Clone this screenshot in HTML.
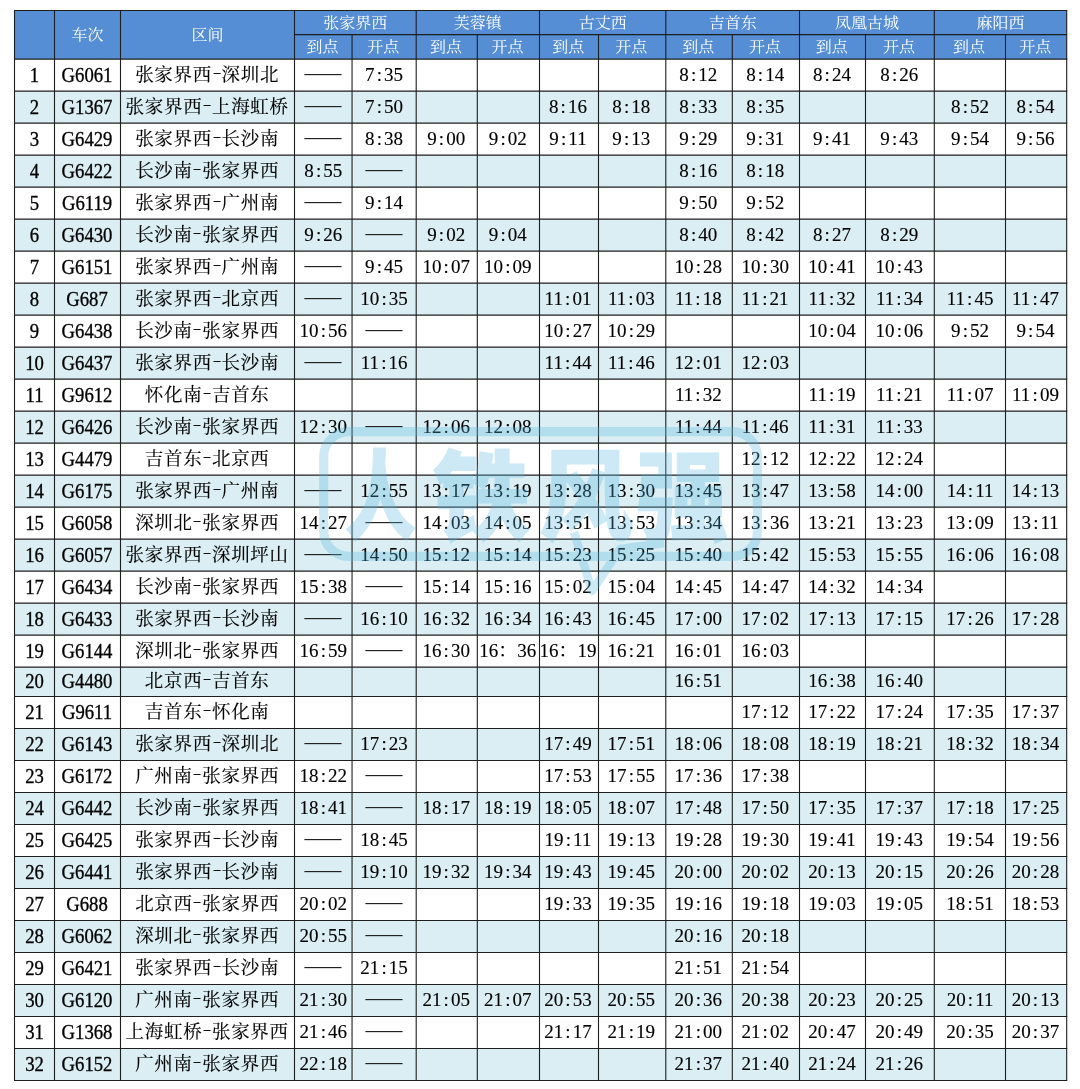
<!DOCTYPE html>
<html lang="zh-CN"><head><meta charset="utf-8"><title>张家界西站列车时刻表</title>
<style>
html,body{margin:0;padding:0;background:#fff;}
body{width:1080px;height:1089px;position:relative;overflow:hidden;font-family:"Liberation Serif","Noto Serif CJK SC",serif;color:#000;}
svg{position:absolute;left:0;top:0;}
.c{position:absolute;display:flex;align-items:center;justify-content:center;white-space:nowrap;text-align:center;}
.c>span{display:inline-block;}
.c i{font-style:normal;display:inline-block;text-align:center;}
.h{color:#fff;font-size:16.0px;}
.n{font-size:18.7px;}
.z{font-size:18.5px;letter-spacing:0.7px;}
.z i{width:9.6px;letter-spacing:0;}
.z i b{font-weight:normal;display:inline-block;transform:translateY(-3.8px) scale(1.4,0.7);}
.t{font-size:19.0px;letter-spacing:0.0px;}
.t i{width:9.5px;letter-spacing:0;}
.t i.f{width:19.0px;line-height:0;text-align:left;}
.d{font-size:19.0px;font-weight:400;color:#222;}
.h>span{transform:translateY(-0.65px) scale(1.0,0.92);}
.n>span{transform:translateY(0.35px) scale(1.0,1.1);-webkit-text-stroke:0.3px currentColor;}
.z>span{transform:translateY(-1.8px) scale(1.0,1.0);-webkit-text-stroke:0.15px currentColor;}
.t>span{transform:translateY(0.0px) scale(1.0,1.0);-webkit-text-stroke:0.12px currentColor;}
.d>span{transform:translateY(-2.6px) scale(0.97,1.25);}
</style></head><body>
<svg width="1080" height="1089" viewBox="0 0 1080 1089">
<rect x="14.5" y="10.5" width="1052.2" height="48.6" fill="#558ed5"/>
<rect x="14.5" y="91.100" width="1052.2" height="32.000" fill="#daeef3"/>
<rect x="14.5" y="155.100" width="1052.2" height="32.000" fill="#daeef3"/>
<rect x="14.5" y="219.100" width="1052.2" height="32.000" fill="#daeef3"/>
<rect x="14.5" y="283.100" width="1052.2" height="32.000" fill="#daeef3"/>
<rect x="14.5" y="347.100" width="1052.2" height="32.000" fill="#daeef3"/>
<rect x="14.5" y="411.100" width="1052.2" height="32.000" fill="#daeef3"/>
<rect x="14.5" y="475.100" width="1052.2" height="32.000" fill="#daeef3"/>
<rect x="14.5" y="539.100" width="1052.2" height="32.000" fill="#daeef3"/>
<rect x="14.5" y="603.100" width="1052.2" height="32.000" fill="#daeef3"/>
<rect x="14.5" y="667.100" width="1052.2" height="29.400" fill="#daeef3"/>
<rect x="14.5" y="728.500" width="1052.2" height="32.000" fill="#daeef3"/>
<rect x="14.5" y="792.500" width="1052.2" height="32.000" fill="#daeef3"/>
<rect x="14.5" y="856.500" width="1052.2" height="32.000" fill="#daeef3"/>
<rect x="14.5" y="920.500" width="1052.2" height="32.000" fill="#daeef3"/>
<rect x="14.5" y="984.500" width="1052.2" height="32.000" fill="#daeef3"/>
<rect x="14.5" y="1048.500" width="1052.2" height="32.000" fill="#daeef3"/>
</svg>
<svg width="1080" height="1089" viewBox="0 0 1080 1089">
<g stroke="#1e1e1e" fill="none">
<g stroke-width="1.15">
<line x1="14.0" y1="10.5" x2="1067.2" y2="10.5" stroke-width="1.1"/>
<line x1="294.5" y1="34.6" x2="1066.7" y2="34.6" stroke-width="1.1"/>
<line x1="14.0" y1="59.100" x2="1067.2" y2="59.100"/>
<line x1="14.0" y1="91.100" x2="1067.2" y2="91.100"/>
<line x1="14.0" y1="123.100" x2="1067.2" y2="123.100"/>
<line x1="14.0" y1="155.100" x2="1067.2" y2="155.100"/>
<line x1="14.0" y1="187.100" x2="1067.2" y2="187.100"/>
<line x1="14.0" y1="219.100" x2="1067.2" y2="219.100"/>
<line x1="14.0" y1="251.100" x2="1067.2" y2="251.100"/>
<line x1="14.0" y1="283.100" x2="1067.2" y2="283.100"/>
<line x1="14.0" y1="315.100" x2="1067.2" y2="315.100"/>
<line x1="14.0" y1="347.100" x2="1067.2" y2="347.100"/>
<line x1="14.0" y1="379.100" x2="1067.2" y2="379.100"/>
<line x1="14.0" y1="411.100" x2="1067.2" y2="411.100"/>
<line x1="14.0" y1="443.100" x2="1067.2" y2="443.100"/>
<line x1="14.0" y1="475.100" x2="1067.2" y2="475.100"/>
<line x1="14.0" y1="507.100" x2="1067.2" y2="507.100"/>
<line x1="14.0" y1="539.100" x2="1067.2" y2="539.100"/>
<line x1="14.0" y1="571.100" x2="1067.2" y2="571.100"/>
<line x1="14.0" y1="603.100" x2="1067.2" y2="603.100"/>
<line x1="14.0" y1="635.100" x2="1067.2" y2="635.100"/>
<line x1="14.0" y1="667.100" x2="1067.2" y2="667.100"/>
</g>
<g stroke-width="1.05">
<line x1="14.0" y1="696.500" x2="1067.2" y2="696.500"/>
<line x1="14.0" y1="728.500" x2="1067.2" y2="728.500"/>
<line x1="14.0" y1="760.500" x2="1067.2" y2="760.500"/>
<line x1="14.0" y1="792.500" x2="1067.2" y2="792.500"/>
<line x1="14.0" y1="824.500" x2="1067.2" y2="824.500"/>
<line x1="14.0" y1="856.500" x2="1067.2" y2="856.500"/>
<line x1="14.0" y1="888.500" x2="1067.2" y2="888.500"/>
<line x1="14.0" y1="920.500" x2="1067.2" y2="920.500"/>
<line x1="14.0" y1="952.500" x2="1067.2" y2="952.500"/>
<line x1="14.0" y1="984.500" x2="1067.2" y2="984.500"/>
<line x1="14.0" y1="1016.500" x2="1067.2" y2="1016.500"/>
<line x1="14.0" y1="1048.500" x2="1067.2" y2="1048.500"/>
<line x1="14.0" y1="1080.500" x2="1067.2" y2="1080.500"/>
</g>
<g stroke-width="1.1">
<line x1="14.5" y1="10.5" x2="14.5" y2="1080.500"/>
<line x1="54.5" y1="10.5" x2="54.5" y2="1080.500"/>
<line x1="120.5" y1="10.5" x2="120.5" y2="1080.500"/>
<line x1="294.5" y1="10.5" x2="294.5" y2="1080.500"/>
<line x1="352.05" y1="34.6" x2="352.05" y2="1080.500"/>
<line x1="416.2" y1="10.5" x2="416.2" y2="1080.500"/>
<line x1="477.3" y1="34.6" x2="477.3" y2="1080.500"/>
<line x1="539.5" y1="10.5" x2="539.5" y2="1080.500"/>
<line x1="598.5" y1="34.6" x2="598.5" y2="1080.500"/>
<line x1="665.8" y1="10.5" x2="665.8" y2="1080.500"/>
<line x1="732.3" y1="34.6" x2="732.3" y2="1080.500"/>
<line x1="799.5" y1="10.5" x2="799.5" y2="1080.500"/>
<line x1="865.5" y1="34.6" x2="865.5" y2="1080.500"/>
<line x1="934.3" y1="10.5" x2="934.3" y2="1080.500"/>
<line x1="1005.5" y1="34.6" x2="1005.5" y2="1080.500"/>
<line x1="1066.7" y1="10.5" x2="1066.7" y2="1080.500"/>
</g>
</g></svg>
<div class="c h" style="left:54.50px;top:10.50px;width:66.00px;height:48.60px"><span>车次</span></div>
<div class="c h" style="left:120.50px;top:10.50px;width:174.00px;height:48.60px"><span>区间</span></div>
<div class="c h" style="left:294.50px;top:10.50px;width:121.70px;height:24.10px"><span>张家界西</span></div>
<div class="c h" style="left:293.70px;top:34.10px;width:57.55px;height:24.50px"><span>到点</span></div>
<div class="c h" style="left:351.25px;top:34.10px;width:64.15px;height:24.50px"><span>开点</span></div>
<div class="c h" style="left:416.20px;top:10.50px;width:123.30px;height:24.10px"><span>芙蓉镇</span></div>
<div class="c h" style="left:415.40px;top:34.10px;width:61.10px;height:24.50px"><span>到点</span></div>
<div class="c h" style="left:476.50px;top:34.10px;width:62.20px;height:24.50px"><span>开点</span></div>
<div class="c h" style="left:539.50px;top:10.50px;width:126.30px;height:24.10px"><span>古丈西</span></div>
<div class="c h" style="left:538.70px;top:34.10px;width:59.00px;height:24.50px"><span>到点</span></div>
<div class="c h" style="left:597.70px;top:34.10px;width:67.30px;height:24.50px"><span>开点</span></div>
<div class="c h" style="left:665.80px;top:10.50px;width:133.70px;height:24.10px"><span>吉首东</span></div>
<div class="c h" style="left:665.00px;top:34.10px;width:66.50px;height:24.50px"><span>到点</span></div>
<div class="c h" style="left:731.50px;top:34.10px;width:67.20px;height:24.50px"><span>开点</span></div>
<div class="c h" style="left:799.50px;top:10.50px;width:134.80px;height:24.10px"><span>凤凰古城</span></div>
<div class="c h" style="left:798.70px;top:34.10px;width:66.00px;height:24.50px"><span>到点</span></div>
<div class="c h" style="left:864.70px;top:34.10px;width:68.80px;height:24.50px"><span>开点</span></div>
<div class="c h" style="left:934.30px;top:10.50px;width:132.40px;height:24.10px"><span>麻阳西</span></div>
<div class="c h" style="left:933.50px;top:34.10px;width:71.20px;height:24.50px"><span>到点</span></div>
<div class="c h" style="left:1004.70px;top:34.10px;width:61.20px;height:24.50px"><span>开点</span></div>
<div class="c n" style="left:14.50px;top:59.00px;width:40.00px;height:32.00px"><span>1</span></div>
<div class="c n" style="left:54.00px;top:59.00px;width:66.00px;height:32.00px"><span>G6061</span></div>
<div class="c z" style="left:120.15px;top:59.00px;width:174.00px;height:32.00px"><span>张家界西<i><b>-</b></i>深圳北</span></div>
<div class="c d" style="left:294.50px;top:59.00px;width:57.55px;height:32.00px"><span>——</span></div>
<div class="c t" style="left:352.05px;top:59.00px;width:64.15px;height:32.00px"><span>7<i>:</i>35</span></div>
<div class="c t" style="left:665.10px;top:59.00px;width:66.50px;height:32.00px"><span>8<i>:</i>12</span></div>
<div class="c t" style="left:731.60px;top:59.00px;width:67.20px;height:32.00px"><span>8<i>:</i>14</span></div>
<div class="c t" style="left:799.00px;top:59.00px;width:66.00px;height:32.00px"><span>8<i>:</i>24</span></div>
<div class="c t" style="left:864.90px;top:59.00px;width:68.80px;height:32.00px"><span>8<i>:</i>26</span></div>
<div class="c n" style="left:14.50px;top:91.00px;width:40.00px;height:32.00px"><span>2</span></div>
<div class="c n" style="left:54.00px;top:91.00px;width:66.00px;height:32.00px"><span>G1367</span></div>
<div class="c z" style="left:120.15px;top:91.00px;width:174.00px;height:32.00px"><span>张家界西<i><b>-</b></i>上海虹桥</span></div>
<div class="c d" style="left:294.50px;top:91.00px;width:57.55px;height:32.00px"><span>——</span></div>
<div class="c t" style="left:352.05px;top:91.00px;width:64.15px;height:32.00px"><span>7<i>:</i>50</span></div>
<div class="c t" style="left:538.50px;top:91.00px;width:59.00px;height:32.00px"><span>8<i>:</i>16</span></div>
<div class="c t" style="left:597.70px;top:91.00px;width:67.30px;height:32.00px"><span>8<i>:</i>18</span></div>
<div class="c t" style="left:665.10px;top:91.00px;width:66.50px;height:32.00px"><span>8<i>:</i>33</span></div>
<div class="c t" style="left:731.60px;top:91.00px;width:67.20px;height:32.00px"><span>8<i>:</i>35</span></div>
<div class="c t" style="left:934.50px;top:91.00px;width:71.20px;height:32.00px"><span>8<i>:</i>52</span></div>
<div class="c t" style="left:1004.90px;top:91.00px;width:61.20px;height:32.00px"><span>8<i>:</i>54</span></div>
<div class="c n" style="left:14.50px;top:123.00px;width:40.00px;height:32.00px"><span>3</span></div>
<div class="c n" style="left:54.00px;top:123.00px;width:66.00px;height:32.00px"><span>G6429</span></div>
<div class="c z" style="left:120.15px;top:123.00px;width:174.00px;height:32.00px"><span>张家界西<i><b>-</b></i>长沙南</span></div>
<div class="c d" style="left:294.50px;top:123.00px;width:57.55px;height:32.00px"><span>——</span></div>
<div class="c t" style="left:352.05px;top:123.00px;width:64.15px;height:32.00px"><span>8<i>:</i>38</span></div>
<div class="c t" style="left:415.70px;top:123.00px;width:61.10px;height:32.00px"><span>9<i>:</i>00</span></div>
<div class="c t" style="left:476.70px;top:123.00px;width:62.20px;height:32.00px"><span>9<i>:</i>02</span></div>
<div class="c t" style="left:538.50px;top:123.00px;width:59.00px;height:32.00px"><span>9<i>:</i>11</span></div>
<div class="c t" style="left:597.70px;top:123.00px;width:67.30px;height:32.00px"><span>9<i>:</i>13</span></div>
<div class="c t" style="left:665.10px;top:123.00px;width:66.50px;height:32.00px"><span>9<i>:</i>29</span></div>
<div class="c t" style="left:731.60px;top:123.00px;width:67.20px;height:32.00px"><span>9<i>:</i>31</span></div>
<div class="c t" style="left:799.00px;top:123.00px;width:66.00px;height:32.00px"><span>9<i>:</i>41</span></div>
<div class="c t" style="left:864.90px;top:123.00px;width:68.80px;height:32.00px"><span>9<i>:</i>43</span></div>
<div class="c t" style="left:934.50px;top:123.00px;width:71.20px;height:32.00px"><span>9<i>:</i>54</span></div>
<div class="c t" style="left:1004.90px;top:123.00px;width:61.20px;height:32.00px"><span>9<i>:</i>56</span></div>
<div class="c n" style="left:14.50px;top:155.00px;width:40.00px;height:32.00px"><span>4</span></div>
<div class="c n" style="left:54.00px;top:155.00px;width:66.00px;height:32.00px"><span>G6422</span></div>
<div class="c z" style="left:120.15px;top:155.00px;width:174.00px;height:32.00px"><span>长沙南<i><b>-</b></i>张家界西</span></div>
<div class="c t" style="left:294.50px;top:155.00px;width:57.55px;height:32.00px"><span>8<i>:</i>55</span></div>
<div class="c d" style="left:352.05px;top:155.00px;width:64.15px;height:32.00px"><span>——</span></div>
<div class="c t" style="left:665.10px;top:155.00px;width:66.50px;height:32.00px"><span>8<i>:</i>16</span></div>
<div class="c t" style="left:731.60px;top:155.00px;width:67.20px;height:32.00px"><span>8<i>:</i>18</span></div>
<div class="c n" style="left:14.50px;top:187.00px;width:40.00px;height:32.00px"><span>5</span></div>
<div class="c n" style="left:54.00px;top:187.00px;width:66.00px;height:32.00px"><span>G6119</span></div>
<div class="c z" style="left:120.15px;top:187.00px;width:174.00px;height:32.00px"><span>张家界西<i><b>-</b></i>广州南</span></div>
<div class="c d" style="left:294.50px;top:187.00px;width:57.55px;height:32.00px"><span>——</span></div>
<div class="c t" style="left:352.05px;top:187.00px;width:64.15px;height:32.00px"><span>9<i>:</i>14</span></div>
<div class="c t" style="left:665.10px;top:187.00px;width:66.50px;height:32.00px"><span>9<i>:</i>50</span></div>
<div class="c t" style="left:731.60px;top:187.00px;width:67.20px;height:32.00px"><span>9<i>:</i>52</span></div>
<div class="c n" style="left:14.50px;top:219.00px;width:40.00px;height:32.00px"><span>6</span></div>
<div class="c n" style="left:54.00px;top:219.00px;width:66.00px;height:32.00px"><span>G6430</span></div>
<div class="c z" style="left:120.15px;top:219.00px;width:174.00px;height:32.00px"><span>长沙南<i><b>-</b></i>张家界西</span></div>
<div class="c t" style="left:294.50px;top:219.00px;width:57.55px;height:32.00px"><span>9<i>:</i>26</span></div>
<div class="c d" style="left:352.05px;top:219.00px;width:64.15px;height:32.00px"><span>——</span></div>
<div class="c t" style="left:415.70px;top:219.00px;width:61.10px;height:32.00px"><span>9<i>:</i>02</span></div>
<div class="c t" style="left:476.70px;top:219.00px;width:62.20px;height:32.00px"><span>9<i>:</i>04</span></div>
<div class="c t" style="left:665.10px;top:219.00px;width:66.50px;height:32.00px"><span>8<i>:</i>40</span></div>
<div class="c t" style="left:731.60px;top:219.00px;width:67.20px;height:32.00px"><span>8<i>:</i>42</span></div>
<div class="c t" style="left:799.00px;top:219.00px;width:66.00px;height:32.00px"><span>8<i>:</i>27</span></div>
<div class="c t" style="left:864.90px;top:219.00px;width:68.80px;height:32.00px"><span>8<i>:</i>29</span></div>
<div class="c n" style="left:14.50px;top:251.00px;width:40.00px;height:32.00px"><span>7</span></div>
<div class="c n" style="left:54.00px;top:251.00px;width:66.00px;height:32.00px"><span>G6151</span></div>
<div class="c z" style="left:120.15px;top:251.00px;width:174.00px;height:32.00px"><span>张家界西<i><b>-</b></i>广州南</span></div>
<div class="c d" style="left:294.50px;top:251.00px;width:57.55px;height:32.00px"><span>——</span></div>
<div class="c t" style="left:352.05px;top:251.00px;width:64.15px;height:32.00px"><span>9<i>:</i>45</span></div>
<div class="c t" style="left:415.70px;top:251.00px;width:61.10px;height:32.00px"><span>10<i>:</i>07</span></div>
<div class="c t" style="left:476.70px;top:251.00px;width:62.20px;height:32.00px"><span>10<i>:</i>09</span></div>
<div class="c t" style="left:665.10px;top:251.00px;width:66.50px;height:32.00px"><span>10<i>:</i>28</span></div>
<div class="c t" style="left:731.60px;top:251.00px;width:67.20px;height:32.00px"><span>10<i>:</i>30</span></div>
<div class="c t" style="left:799.00px;top:251.00px;width:66.00px;height:32.00px"><span>10<i>:</i>41</span></div>
<div class="c t" style="left:864.90px;top:251.00px;width:68.80px;height:32.00px"><span>10<i>:</i>43</span></div>
<div class="c n" style="left:14.50px;top:283.00px;width:40.00px;height:32.00px"><span>8</span></div>
<div class="c n" style="left:54.00px;top:283.00px;width:66.00px;height:32.00px"><span>G687</span></div>
<div class="c z" style="left:120.15px;top:283.00px;width:174.00px;height:32.00px"><span>张家界西<i><b>-</b></i>北京西</span></div>
<div class="c d" style="left:294.50px;top:283.00px;width:57.55px;height:32.00px"><span>——</span></div>
<div class="c t" style="left:352.05px;top:283.00px;width:64.15px;height:32.00px"><span>10<i>:</i>35</span></div>
<div class="c t" style="left:538.50px;top:283.00px;width:59.00px;height:32.00px"><span>11<i>:</i>01</span></div>
<div class="c t" style="left:597.70px;top:283.00px;width:67.30px;height:32.00px"><span>11<i>:</i>03</span></div>
<div class="c t" style="left:665.10px;top:283.00px;width:66.50px;height:32.00px"><span>11<i>:</i>18</span></div>
<div class="c t" style="left:731.60px;top:283.00px;width:67.20px;height:32.00px"><span>11<i>:</i>21</span></div>
<div class="c t" style="left:799.00px;top:283.00px;width:66.00px;height:32.00px"><span>11<i>:</i>32</span></div>
<div class="c t" style="left:864.90px;top:283.00px;width:68.80px;height:32.00px"><span>11<i>:</i>34</span></div>
<div class="c t" style="left:934.50px;top:283.00px;width:71.20px;height:32.00px"><span>11<i>:</i>45</span></div>
<div class="c t" style="left:1004.90px;top:283.00px;width:61.20px;height:32.00px"><span>11<i>:</i>47</span></div>
<div class="c n" style="left:14.50px;top:315.00px;width:40.00px;height:32.00px"><span>9</span></div>
<div class="c n" style="left:54.00px;top:315.00px;width:66.00px;height:32.00px"><span>G6438</span></div>
<div class="c z" style="left:120.15px;top:315.00px;width:174.00px;height:32.00px"><span>长沙南<i><b>-</b></i>张家界西</span></div>
<div class="c t" style="left:294.50px;top:315.00px;width:57.55px;height:32.00px"><span>10<i>:</i>56</span></div>
<div class="c d" style="left:352.05px;top:315.00px;width:64.15px;height:32.00px"><span>——</span></div>
<div class="c t" style="left:538.50px;top:315.00px;width:59.00px;height:32.00px"><span>10<i>:</i>27</span></div>
<div class="c t" style="left:597.70px;top:315.00px;width:67.30px;height:32.00px"><span>10<i>:</i>29</span></div>
<div class="c t" style="left:799.00px;top:315.00px;width:66.00px;height:32.00px"><span>10<i>:</i>04</span></div>
<div class="c t" style="left:864.90px;top:315.00px;width:68.80px;height:32.00px"><span>10<i>:</i>06</span></div>
<div class="c t" style="left:934.50px;top:315.00px;width:71.20px;height:32.00px"><span>9<i>:</i>52</span></div>
<div class="c t" style="left:1004.90px;top:315.00px;width:61.20px;height:32.00px"><span>9<i>:</i>54</span></div>
<div class="c n" style="left:14.50px;top:347.00px;width:40.00px;height:32.00px"><span>10</span></div>
<div class="c n" style="left:54.00px;top:347.00px;width:66.00px;height:32.00px"><span>G6437</span></div>
<div class="c z" style="left:120.15px;top:347.00px;width:174.00px;height:32.00px"><span>张家界西<i><b>-</b></i>长沙南</span></div>
<div class="c d" style="left:294.50px;top:347.00px;width:57.55px;height:32.00px"><span>——</span></div>
<div class="c t" style="left:352.05px;top:347.00px;width:64.15px;height:32.00px"><span>11<i>:</i>16</span></div>
<div class="c t" style="left:538.50px;top:347.00px;width:59.00px;height:32.00px"><span>11<i>:</i>44</span></div>
<div class="c t" style="left:597.70px;top:347.00px;width:67.30px;height:32.00px"><span>11<i>:</i>46</span></div>
<div class="c t" style="left:665.10px;top:347.00px;width:66.50px;height:32.00px"><span>12<i>:</i>01</span></div>
<div class="c t" style="left:731.60px;top:347.00px;width:67.20px;height:32.00px"><span>12<i>:</i>03</span></div>
<div class="c n" style="left:14.50px;top:379.00px;width:40.00px;height:32.00px"><span>11</span></div>
<div class="c n" style="left:54.00px;top:379.00px;width:66.00px;height:32.00px"><span>G9612</span></div>
<div class="c z" style="left:120.15px;top:379.00px;width:174.00px;height:32.00px"><span>怀化南<i><b>-</b></i>吉首东</span></div>
<div class="c t" style="left:665.10px;top:379.00px;width:66.50px;height:32.00px"><span>11<i>:</i>32</span></div>
<div class="c t" style="left:799.00px;top:379.00px;width:66.00px;height:32.00px"><span>11<i>:</i>19</span></div>
<div class="c t" style="left:864.90px;top:379.00px;width:68.80px;height:32.00px"><span>11<i>:</i>21</span></div>
<div class="c t" style="left:934.50px;top:379.00px;width:71.20px;height:32.00px"><span>11<i>:</i>07</span></div>
<div class="c t" style="left:1004.90px;top:379.00px;width:61.20px;height:32.00px"><span>11<i>:</i>09</span></div>
<div class="c n" style="left:14.50px;top:411.00px;width:40.00px;height:32.00px"><span>12</span></div>
<div class="c n" style="left:54.00px;top:411.00px;width:66.00px;height:32.00px"><span>G6426</span></div>
<div class="c z" style="left:120.15px;top:411.00px;width:174.00px;height:32.00px"><span>长沙南<i><b>-</b></i>张家界西</span></div>
<div class="c t" style="left:294.50px;top:411.00px;width:57.55px;height:32.00px"><span>12<i>:</i>30</span></div>
<div class="c d" style="left:352.05px;top:411.00px;width:64.15px;height:32.00px"><span>——</span></div>
<div class="c t" style="left:415.70px;top:411.00px;width:61.10px;height:32.00px"><span>12<i>:</i>06</span></div>
<div class="c t" style="left:476.70px;top:411.00px;width:62.20px;height:32.00px"><span>12<i>:</i>08</span></div>
<div class="c t" style="left:665.10px;top:411.00px;width:66.50px;height:32.00px"><span>11<i>:</i>44</span></div>
<div class="c t" style="left:731.60px;top:411.00px;width:67.20px;height:32.00px"><span>11<i>:</i>46</span></div>
<div class="c t" style="left:799.00px;top:411.00px;width:66.00px;height:32.00px"><span>11<i>:</i>31</span></div>
<div class="c t" style="left:864.90px;top:411.00px;width:68.80px;height:32.00px"><span>11<i>:</i>33</span></div>
<div class="c n" style="left:14.50px;top:443.00px;width:40.00px;height:32.00px"><span>13</span></div>
<div class="c n" style="left:54.00px;top:443.00px;width:66.00px;height:32.00px"><span>G4479</span></div>
<div class="c z" style="left:120.15px;top:443.00px;width:174.00px;height:32.00px"><span>吉首东<i><b>-</b></i>北京西</span></div>
<div class="c t" style="left:731.60px;top:443.00px;width:67.20px;height:32.00px"><span>12<i>:</i>12</span></div>
<div class="c t" style="left:799.00px;top:443.00px;width:66.00px;height:32.00px"><span>12<i>:</i>22</span></div>
<div class="c t" style="left:864.90px;top:443.00px;width:68.80px;height:32.00px"><span>12<i>:</i>24</span></div>
<div class="c n" style="left:14.50px;top:475.00px;width:40.00px;height:32.00px"><span>14</span></div>
<div class="c n" style="left:54.00px;top:475.00px;width:66.00px;height:32.00px"><span>G6175</span></div>
<div class="c z" style="left:120.15px;top:475.00px;width:174.00px;height:32.00px"><span>张家界西<i><b>-</b></i>广州南</span></div>
<div class="c d" style="left:294.50px;top:475.00px;width:57.55px;height:32.00px"><span>——</span></div>
<div class="c t" style="left:352.05px;top:475.00px;width:64.15px;height:32.00px"><span>12<i>:</i>55</span></div>
<div class="c t" style="left:415.70px;top:475.00px;width:61.10px;height:32.00px"><span>13<i>:</i>17</span></div>
<div class="c t" style="left:476.70px;top:475.00px;width:62.20px;height:32.00px"><span>13<i>:</i>19</span></div>
<div class="c t" style="left:538.50px;top:475.00px;width:59.00px;height:32.00px"><span>13<i>:</i>28</span></div>
<div class="c t" style="left:597.70px;top:475.00px;width:67.30px;height:32.00px"><span>13<i>:</i>30</span></div>
<div class="c t" style="left:665.10px;top:475.00px;width:66.50px;height:32.00px"><span>13<i>:</i>45</span></div>
<div class="c t" style="left:731.60px;top:475.00px;width:67.20px;height:32.00px"><span>13<i>:</i>47</span></div>
<div class="c t" style="left:799.00px;top:475.00px;width:66.00px;height:32.00px"><span>13<i>:</i>58</span></div>
<div class="c t" style="left:864.90px;top:475.00px;width:68.80px;height:32.00px"><span>14<i>:</i>00</span></div>
<div class="c t" style="left:934.50px;top:475.00px;width:71.20px;height:32.00px"><span>14<i>:</i>11</span></div>
<div class="c t" style="left:1004.90px;top:475.00px;width:61.20px;height:32.00px"><span>14<i>:</i>13</span></div>
<div class="c n" style="left:14.50px;top:507.00px;width:40.00px;height:32.00px"><span>15</span></div>
<div class="c n" style="left:54.00px;top:507.00px;width:66.00px;height:32.00px"><span>G6058</span></div>
<div class="c z" style="left:120.15px;top:507.00px;width:174.00px;height:32.00px"><span>深圳北<i><b>-</b></i>张家界西</span></div>
<div class="c t" style="left:294.50px;top:507.00px;width:57.55px;height:32.00px"><span>14<i>:</i>27</span></div>
<div class="c d" style="left:352.05px;top:507.00px;width:64.15px;height:32.00px"><span>——</span></div>
<div class="c t" style="left:415.70px;top:507.00px;width:61.10px;height:32.00px"><span>14<i>:</i>03</span></div>
<div class="c t" style="left:476.70px;top:507.00px;width:62.20px;height:32.00px"><span>14<i>:</i>05</span></div>
<div class="c t" style="left:538.50px;top:507.00px;width:59.00px;height:32.00px"><span>13<i>:</i>51</span></div>
<div class="c t" style="left:597.70px;top:507.00px;width:67.30px;height:32.00px"><span>13<i>:</i>53</span></div>
<div class="c t" style="left:665.10px;top:507.00px;width:66.50px;height:32.00px"><span>13<i>:</i>34</span></div>
<div class="c t" style="left:731.60px;top:507.00px;width:67.20px;height:32.00px"><span>13<i>:</i>36</span></div>
<div class="c t" style="left:799.00px;top:507.00px;width:66.00px;height:32.00px"><span>13<i>:</i>21</span></div>
<div class="c t" style="left:864.90px;top:507.00px;width:68.80px;height:32.00px"><span>13<i>:</i>23</span></div>
<div class="c t" style="left:934.50px;top:507.00px;width:71.20px;height:32.00px"><span>13<i>:</i>09</span></div>
<div class="c t" style="left:1004.90px;top:507.00px;width:61.20px;height:32.00px"><span>13<i>:</i>11</span></div>
<div class="c n" style="left:14.50px;top:539.00px;width:40.00px;height:32.00px"><span>16</span></div>
<div class="c n" style="left:54.00px;top:539.00px;width:66.00px;height:32.00px"><span>G6057</span></div>
<div class="c z" style="left:120.15px;top:539.00px;width:174.00px;height:32.00px"><span>张家界西<i><b>-</b></i>深圳坪山</span></div>
<div class="c d" style="left:294.50px;top:539.00px;width:57.55px;height:32.00px"><span>——</span></div>
<div class="c t" style="left:352.05px;top:539.00px;width:64.15px;height:32.00px"><span>14<i>:</i>50</span></div>
<div class="c t" style="left:415.70px;top:539.00px;width:61.10px;height:32.00px"><span>15<i>:</i>12</span></div>
<div class="c t" style="left:476.70px;top:539.00px;width:62.20px;height:32.00px"><span>15<i>:</i>14</span></div>
<div class="c t" style="left:538.50px;top:539.00px;width:59.00px;height:32.00px"><span>15<i>:</i>23</span></div>
<div class="c t" style="left:597.70px;top:539.00px;width:67.30px;height:32.00px"><span>15<i>:</i>25</span></div>
<div class="c t" style="left:665.10px;top:539.00px;width:66.50px;height:32.00px"><span>15<i>:</i>40</span></div>
<div class="c t" style="left:731.60px;top:539.00px;width:67.20px;height:32.00px"><span>15<i>:</i>42</span></div>
<div class="c t" style="left:799.00px;top:539.00px;width:66.00px;height:32.00px"><span>15<i>:</i>53</span></div>
<div class="c t" style="left:864.90px;top:539.00px;width:68.80px;height:32.00px"><span>15<i>:</i>55</span></div>
<div class="c t" style="left:934.50px;top:539.00px;width:71.20px;height:32.00px"><span>16<i>:</i>06</span></div>
<div class="c t" style="left:1004.90px;top:539.00px;width:61.20px;height:32.00px"><span>16<i>:</i>08</span></div>
<div class="c n" style="left:14.50px;top:571.00px;width:40.00px;height:32.00px"><span>17</span></div>
<div class="c n" style="left:54.00px;top:571.00px;width:66.00px;height:32.00px"><span>G6434</span></div>
<div class="c z" style="left:120.15px;top:571.00px;width:174.00px;height:32.00px"><span>长沙南<i><b>-</b></i>张家界西</span></div>
<div class="c t" style="left:294.50px;top:571.00px;width:57.55px;height:32.00px"><span>15<i>:</i>38</span></div>
<div class="c d" style="left:352.05px;top:571.00px;width:64.15px;height:32.00px"><span>——</span></div>
<div class="c t" style="left:415.70px;top:571.00px;width:61.10px;height:32.00px"><span>15<i>:</i>14</span></div>
<div class="c t" style="left:476.70px;top:571.00px;width:62.20px;height:32.00px"><span>15<i>:</i>16</span></div>
<div class="c t" style="left:538.50px;top:571.00px;width:59.00px;height:32.00px"><span>15<i>:</i>02</span></div>
<div class="c t" style="left:597.70px;top:571.00px;width:67.30px;height:32.00px"><span>15<i>:</i>04</span></div>
<div class="c t" style="left:665.10px;top:571.00px;width:66.50px;height:32.00px"><span>14<i>:</i>45</span></div>
<div class="c t" style="left:731.60px;top:571.00px;width:67.20px;height:32.00px"><span>14<i>:</i>47</span></div>
<div class="c t" style="left:799.00px;top:571.00px;width:66.00px;height:32.00px"><span>14<i>:</i>32</span></div>
<div class="c t" style="left:864.90px;top:571.00px;width:68.80px;height:32.00px"><span>14<i>:</i>34</span></div>
<div class="c n" style="left:14.50px;top:603.00px;width:40.00px;height:32.00px"><span>18</span></div>
<div class="c n" style="left:54.00px;top:603.00px;width:66.00px;height:32.00px"><span>G6433</span></div>
<div class="c z" style="left:120.15px;top:603.00px;width:174.00px;height:32.00px"><span>张家界西<i><b>-</b></i>长沙南</span></div>
<div class="c d" style="left:294.50px;top:603.00px;width:57.55px;height:32.00px"><span>——</span></div>
<div class="c t" style="left:352.05px;top:603.00px;width:64.15px;height:32.00px"><span>16<i>:</i>10</span></div>
<div class="c t" style="left:415.70px;top:603.00px;width:61.10px;height:32.00px"><span>16<i>:</i>32</span></div>
<div class="c t" style="left:476.70px;top:603.00px;width:62.20px;height:32.00px"><span>16<i>:</i>34</span></div>
<div class="c t" style="left:538.50px;top:603.00px;width:59.00px;height:32.00px"><span>16<i>:</i>43</span></div>
<div class="c t" style="left:597.70px;top:603.00px;width:67.30px;height:32.00px"><span>16<i>:</i>45</span></div>
<div class="c t" style="left:665.10px;top:603.00px;width:66.50px;height:32.00px"><span>17<i>:</i>00</span></div>
<div class="c t" style="left:731.60px;top:603.00px;width:67.20px;height:32.00px"><span>17<i>:</i>02</span></div>
<div class="c t" style="left:799.00px;top:603.00px;width:66.00px;height:32.00px"><span>17<i>:</i>13</span></div>
<div class="c t" style="left:864.90px;top:603.00px;width:68.80px;height:32.00px"><span>17<i>:</i>15</span></div>
<div class="c t" style="left:934.50px;top:603.00px;width:71.20px;height:32.00px"><span>17<i>:</i>26</span></div>
<div class="c t" style="left:1004.90px;top:603.00px;width:61.20px;height:32.00px"><span>17<i>:</i>28</span></div>
<div class="c n" style="left:14.50px;top:635.00px;width:40.00px;height:32.00px"><span>19</span></div>
<div class="c n" style="left:54.00px;top:635.00px;width:66.00px;height:32.00px"><span>G6144</span></div>
<div class="c z" style="left:120.15px;top:635.00px;width:174.00px;height:32.00px"><span>深圳北<i><b>-</b></i>张家界西</span></div>
<div class="c t" style="left:294.50px;top:635.00px;width:57.55px;height:32.00px"><span>16<i>:</i>59</span></div>
<div class="c d" style="left:352.05px;top:635.00px;width:64.15px;height:32.00px"><span>——</span></div>
<div class="c t" style="left:415.70px;top:635.00px;width:61.10px;height:32.00px"><span>16<i>:</i>30</span></div>
<div class="c t" style="left:476.70px;top:635.00px;width:62.20px;height:32.00px"><span>16<i class="f">：</i>36</span></div>
<div class="c t" style="left:538.50px;top:635.00px;width:59.00px;height:32.00px"><span>16<i class="f">：</i>19</span></div>
<div class="c t" style="left:597.70px;top:635.00px;width:67.30px;height:32.00px"><span>16<i>:</i>21</span></div>
<div class="c t" style="left:665.10px;top:635.00px;width:66.50px;height:32.00px"><span>16<i>:</i>01</span></div>
<div class="c t" style="left:731.60px;top:635.00px;width:67.20px;height:32.00px"><span>16<i>:</i>03</span></div>
<div class="c n" style="left:14.50px;top:666.00px;width:40.00px;height:30.00px"><span>20</span></div>
<div class="c n" style="left:54.00px;top:666.00px;width:66.00px;height:30.00px"><span>G4480</span></div>
<div class="c z" style="left:120.15px;top:666.00px;width:174.00px;height:30.00px"><span>北京西<i><b>-</b></i>吉首东</span></div>
<div class="c t" style="left:665.10px;top:666.00px;width:66.50px;height:30.00px"><span>16<i>:</i>51</span></div>
<div class="c t" style="left:799.00px;top:666.00px;width:66.00px;height:30.00px"><span>16<i>:</i>38</span></div>
<div class="c t" style="left:864.90px;top:666.00px;width:68.80px;height:30.00px"><span>16<i>:</i>40</span></div>
<div class="c n" style="left:14.50px;top:696.00px;width:40.00px;height:32.00px"><span>21</span></div>
<div class="c n" style="left:54.00px;top:696.00px;width:66.00px;height:32.00px"><span>G9611</span></div>
<div class="c z" style="left:120.15px;top:696.00px;width:174.00px;height:32.00px"><span>吉首东<i><b>-</b></i>怀化南</span></div>
<div class="c t" style="left:731.60px;top:696.00px;width:67.20px;height:32.00px"><span>17<i>:</i>12</span></div>
<div class="c t" style="left:799.00px;top:696.00px;width:66.00px;height:32.00px"><span>17<i>:</i>22</span></div>
<div class="c t" style="left:864.90px;top:696.00px;width:68.80px;height:32.00px"><span>17<i>:</i>24</span></div>
<div class="c t" style="left:934.50px;top:696.00px;width:71.20px;height:32.00px"><span>17<i>:</i>35</span></div>
<div class="c t" style="left:1004.90px;top:696.00px;width:61.20px;height:32.00px"><span>17<i>:</i>37</span></div>
<div class="c n" style="left:14.50px;top:728.00px;width:40.00px;height:32.00px"><span>22</span></div>
<div class="c n" style="left:54.00px;top:728.00px;width:66.00px;height:32.00px"><span>G6143</span></div>
<div class="c z" style="left:120.15px;top:728.00px;width:174.00px;height:32.00px"><span>张家界西<i><b>-</b></i>深圳北</span></div>
<div class="c d" style="left:294.50px;top:728.00px;width:57.55px;height:32.00px"><span>——</span></div>
<div class="c t" style="left:352.05px;top:728.00px;width:64.15px;height:32.00px"><span>17<i>:</i>23</span></div>
<div class="c t" style="left:538.50px;top:728.00px;width:59.00px;height:32.00px"><span>17<i>:</i>49</span></div>
<div class="c t" style="left:597.70px;top:728.00px;width:67.30px;height:32.00px"><span>17<i>:</i>51</span></div>
<div class="c t" style="left:665.10px;top:728.00px;width:66.50px;height:32.00px"><span>18<i>:</i>06</span></div>
<div class="c t" style="left:731.60px;top:728.00px;width:67.20px;height:32.00px"><span>18<i>:</i>08</span></div>
<div class="c t" style="left:799.00px;top:728.00px;width:66.00px;height:32.00px"><span>18<i>:</i>19</span></div>
<div class="c t" style="left:864.90px;top:728.00px;width:68.80px;height:32.00px"><span>18<i>:</i>21</span></div>
<div class="c t" style="left:934.50px;top:728.00px;width:71.20px;height:32.00px"><span>18<i>:</i>32</span></div>
<div class="c t" style="left:1004.90px;top:728.00px;width:61.20px;height:32.00px"><span>18<i>:</i>34</span></div>
<div class="c n" style="left:14.50px;top:760.00px;width:40.00px;height:32.00px"><span>23</span></div>
<div class="c n" style="left:54.00px;top:760.00px;width:66.00px;height:32.00px"><span>G6172</span></div>
<div class="c z" style="left:120.15px;top:760.00px;width:174.00px;height:32.00px"><span>广州南<i><b>-</b></i>张家界西</span></div>
<div class="c t" style="left:294.50px;top:760.00px;width:57.55px;height:32.00px"><span>18<i>:</i>22</span></div>
<div class="c d" style="left:352.05px;top:760.00px;width:64.15px;height:32.00px"><span>——</span></div>
<div class="c t" style="left:538.50px;top:760.00px;width:59.00px;height:32.00px"><span>17<i>:</i>53</span></div>
<div class="c t" style="left:597.70px;top:760.00px;width:67.30px;height:32.00px"><span>17<i>:</i>55</span></div>
<div class="c t" style="left:665.10px;top:760.00px;width:66.50px;height:32.00px"><span>17<i>:</i>36</span></div>
<div class="c t" style="left:731.60px;top:760.00px;width:67.20px;height:32.00px"><span>17<i>:</i>38</span></div>
<div class="c n" style="left:14.50px;top:792.00px;width:40.00px;height:32.00px"><span>24</span></div>
<div class="c n" style="left:54.00px;top:792.00px;width:66.00px;height:32.00px"><span>G6442</span></div>
<div class="c z" style="left:120.15px;top:792.00px;width:174.00px;height:32.00px"><span>长沙南<i><b>-</b></i>张家界西</span></div>
<div class="c t" style="left:294.50px;top:792.00px;width:57.55px;height:32.00px"><span>18<i>:</i>41</span></div>
<div class="c d" style="left:352.05px;top:792.00px;width:64.15px;height:32.00px"><span>——</span></div>
<div class="c t" style="left:415.70px;top:792.00px;width:61.10px;height:32.00px"><span>18<i>:</i>17</span></div>
<div class="c t" style="left:476.70px;top:792.00px;width:62.20px;height:32.00px"><span>18<i>:</i>19</span></div>
<div class="c t" style="left:538.50px;top:792.00px;width:59.00px;height:32.00px"><span>18<i>:</i>05</span></div>
<div class="c t" style="left:597.70px;top:792.00px;width:67.30px;height:32.00px"><span>18<i>:</i>07</span></div>
<div class="c t" style="left:665.10px;top:792.00px;width:66.50px;height:32.00px"><span>17<i>:</i>48</span></div>
<div class="c t" style="left:731.60px;top:792.00px;width:67.20px;height:32.00px"><span>17<i>:</i>50</span></div>
<div class="c t" style="left:799.00px;top:792.00px;width:66.00px;height:32.00px"><span>17<i>:</i>35</span></div>
<div class="c t" style="left:864.90px;top:792.00px;width:68.80px;height:32.00px"><span>17<i>:</i>37</span></div>
<div class="c t" style="left:934.50px;top:792.00px;width:71.20px;height:32.00px"><span>17<i>:</i>18</span></div>
<div class="c t" style="left:1004.90px;top:792.00px;width:61.20px;height:32.00px"><span>17<i>:</i>25</span></div>
<div class="c n" style="left:14.50px;top:824.00px;width:40.00px;height:32.00px"><span>25</span></div>
<div class="c n" style="left:54.00px;top:824.00px;width:66.00px;height:32.00px"><span>G6425</span></div>
<div class="c z" style="left:120.15px;top:824.00px;width:174.00px;height:32.00px"><span>张家界西<i><b>-</b></i>长沙南</span></div>
<div class="c d" style="left:294.50px;top:824.00px;width:57.55px;height:32.00px"><span>——</span></div>
<div class="c t" style="left:352.05px;top:824.00px;width:64.15px;height:32.00px"><span>18<i>:</i>45</span></div>
<div class="c t" style="left:538.50px;top:824.00px;width:59.00px;height:32.00px"><span>19<i>:</i>11</span></div>
<div class="c t" style="left:597.70px;top:824.00px;width:67.30px;height:32.00px"><span>19<i>:</i>13</span></div>
<div class="c t" style="left:665.10px;top:824.00px;width:66.50px;height:32.00px"><span>19<i>:</i>28</span></div>
<div class="c t" style="left:731.60px;top:824.00px;width:67.20px;height:32.00px"><span>19<i>:</i>30</span></div>
<div class="c t" style="left:799.00px;top:824.00px;width:66.00px;height:32.00px"><span>19<i>:</i>41</span></div>
<div class="c t" style="left:864.90px;top:824.00px;width:68.80px;height:32.00px"><span>19<i>:</i>43</span></div>
<div class="c t" style="left:934.50px;top:824.00px;width:71.20px;height:32.00px"><span>19<i>:</i>54</span></div>
<div class="c t" style="left:1004.90px;top:824.00px;width:61.20px;height:32.00px"><span>19<i>:</i>56</span></div>
<div class="c n" style="left:14.50px;top:856.00px;width:40.00px;height:32.00px"><span>26</span></div>
<div class="c n" style="left:54.00px;top:856.00px;width:66.00px;height:32.00px"><span>G6441</span></div>
<div class="c z" style="left:120.15px;top:856.00px;width:174.00px;height:32.00px"><span>张家界西<i><b>-</b></i>长沙南</span></div>
<div class="c d" style="left:294.50px;top:856.00px;width:57.55px;height:32.00px"><span>——</span></div>
<div class="c t" style="left:352.05px;top:856.00px;width:64.15px;height:32.00px"><span>19<i>:</i>10</span></div>
<div class="c t" style="left:415.70px;top:856.00px;width:61.10px;height:32.00px"><span>19<i>:</i>32</span></div>
<div class="c t" style="left:476.70px;top:856.00px;width:62.20px;height:32.00px"><span>19<i>:</i>34</span></div>
<div class="c t" style="left:538.50px;top:856.00px;width:59.00px;height:32.00px"><span>19<i>:</i>43</span></div>
<div class="c t" style="left:597.70px;top:856.00px;width:67.30px;height:32.00px"><span>19<i>:</i>45</span></div>
<div class="c t" style="left:665.10px;top:856.00px;width:66.50px;height:32.00px"><span>20<i>:</i>00</span></div>
<div class="c t" style="left:731.60px;top:856.00px;width:67.20px;height:32.00px"><span>20<i>:</i>02</span></div>
<div class="c t" style="left:799.00px;top:856.00px;width:66.00px;height:32.00px"><span>20<i>:</i>13</span></div>
<div class="c t" style="left:864.90px;top:856.00px;width:68.80px;height:32.00px"><span>20<i>:</i>15</span></div>
<div class="c t" style="left:934.50px;top:856.00px;width:71.20px;height:32.00px"><span>20<i>:</i>26</span></div>
<div class="c t" style="left:1004.90px;top:856.00px;width:61.20px;height:32.00px"><span>20<i>:</i>28</span></div>
<div class="c n" style="left:14.50px;top:888.00px;width:40.00px;height:32.00px"><span>27</span></div>
<div class="c n" style="left:54.00px;top:888.00px;width:66.00px;height:32.00px"><span>G688</span></div>
<div class="c z" style="left:120.15px;top:888.00px;width:174.00px;height:32.00px"><span>北京西<i><b>-</b></i>张家界西</span></div>
<div class="c t" style="left:294.50px;top:888.00px;width:57.55px;height:32.00px"><span>20<i>:</i>02</span></div>
<div class="c d" style="left:352.05px;top:888.00px;width:64.15px;height:32.00px"><span>——</span></div>
<div class="c t" style="left:538.50px;top:888.00px;width:59.00px;height:32.00px"><span>19<i>:</i>33</span></div>
<div class="c t" style="left:597.70px;top:888.00px;width:67.30px;height:32.00px"><span>19<i>:</i>35</span></div>
<div class="c t" style="left:665.10px;top:888.00px;width:66.50px;height:32.00px"><span>19<i>:</i>16</span></div>
<div class="c t" style="left:731.60px;top:888.00px;width:67.20px;height:32.00px"><span>19<i>:</i>18</span></div>
<div class="c t" style="left:799.00px;top:888.00px;width:66.00px;height:32.00px"><span>19<i>:</i>03</span></div>
<div class="c t" style="left:864.90px;top:888.00px;width:68.80px;height:32.00px"><span>19<i>:</i>05</span></div>
<div class="c t" style="left:934.50px;top:888.00px;width:71.20px;height:32.00px"><span>18<i>:</i>51</span></div>
<div class="c t" style="left:1004.90px;top:888.00px;width:61.20px;height:32.00px"><span>18<i>:</i>53</span></div>
<div class="c n" style="left:14.50px;top:920.00px;width:40.00px;height:32.00px"><span>28</span></div>
<div class="c n" style="left:54.00px;top:920.00px;width:66.00px;height:32.00px"><span>G6062</span></div>
<div class="c z" style="left:120.15px;top:920.00px;width:174.00px;height:32.00px"><span>深圳北<i><b>-</b></i>张家界西</span></div>
<div class="c t" style="left:294.50px;top:920.00px;width:57.55px;height:32.00px"><span>20<i>:</i>55</span></div>
<div class="c d" style="left:352.05px;top:920.00px;width:64.15px;height:32.00px"><span>——</span></div>
<div class="c t" style="left:665.10px;top:920.00px;width:66.50px;height:32.00px"><span>20<i>:</i>16</span></div>
<div class="c t" style="left:731.60px;top:920.00px;width:67.20px;height:32.00px"><span>20<i>:</i>18</span></div>
<div class="c n" style="left:14.50px;top:952.00px;width:40.00px;height:32.00px"><span>29</span></div>
<div class="c n" style="left:54.00px;top:952.00px;width:66.00px;height:32.00px"><span>G6421</span></div>
<div class="c z" style="left:120.15px;top:952.00px;width:174.00px;height:32.00px"><span>张家界西<i><b>-</b></i>长沙南</span></div>
<div class="c d" style="left:294.50px;top:952.00px;width:57.55px;height:32.00px"><span>——</span></div>
<div class="c t" style="left:352.05px;top:952.00px;width:64.15px;height:32.00px"><span>21<i>:</i>15</span></div>
<div class="c t" style="left:665.10px;top:952.00px;width:66.50px;height:32.00px"><span>21<i>:</i>51</span></div>
<div class="c t" style="left:731.60px;top:952.00px;width:67.20px;height:32.00px"><span>21<i>:</i>54</span></div>
<div class="c n" style="left:14.50px;top:984.00px;width:40.00px;height:32.00px"><span>30</span></div>
<div class="c n" style="left:54.00px;top:984.00px;width:66.00px;height:32.00px"><span>G6120</span></div>
<div class="c z" style="left:120.15px;top:984.00px;width:174.00px;height:32.00px"><span>广州南<i><b>-</b></i>张家界西</span></div>
<div class="c t" style="left:294.50px;top:984.00px;width:57.55px;height:32.00px"><span>21<i>:</i>30</span></div>
<div class="c d" style="left:352.05px;top:984.00px;width:64.15px;height:32.00px"><span>——</span></div>
<div class="c t" style="left:415.70px;top:984.00px;width:61.10px;height:32.00px"><span>21<i>:</i>05</span></div>
<div class="c t" style="left:476.70px;top:984.00px;width:62.20px;height:32.00px"><span>21<i>:</i>07</span></div>
<div class="c t" style="left:538.50px;top:984.00px;width:59.00px;height:32.00px"><span>20<i>:</i>53</span></div>
<div class="c t" style="left:597.70px;top:984.00px;width:67.30px;height:32.00px"><span>20<i>:</i>55</span></div>
<div class="c t" style="left:665.10px;top:984.00px;width:66.50px;height:32.00px"><span>20<i>:</i>36</span></div>
<div class="c t" style="left:731.60px;top:984.00px;width:67.20px;height:32.00px"><span>20<i>:</i>38</span></div>
<div class="c t" style="left:799.00px;top:984.00px;width:66.00px;height:32.00px"><span>20<i>:</i>23</span></div>
<div class="c t" style="left:864.90px;top:984.00px;width:68.80px;height:32.00px"><span>20<i>:</i>25</span></div>
<div class="c t" style="left:934.50px;top:984.00px;width:71.20px;height:32.00px"><span>20<i>:</i>11</span></div>
<div class="c t" style="left:1004.90px;top:984.00px;width:61.20px;height:32.00px"><span>20<i>:</i>13</span></div>
<div class="c n" style="left:14.50px;top:1016.00px;width:40.00px;height:32.00px"><span>31</span></div>
<div class="c n" style="left:54.00px;top:1016.00px;width:66.00px;height:32.00px"><span>G1368</span></div>
<div class="c z" style="left:120.15px;top:1016.00px;width:174.00px;height:32.00px"><span>上海虹桥<i><b>-</b></i>张家界西</span></div>
<div class="c t" style="left:294.50px;top:1016.00px;width:57.55px;height:32.00px"><span>21<i>:</i>46</span></div>
<div class="c d" style="left:352.05px;top:1016.00px;width:64.15px;height:32.00px"><span>——</span></div>
<div class="c t" style="left:538.50px;top:1016.00px;width:59.00px;height:32.00px"><span>21<i>:</i>17</span></div>
<div class="c t" style="left:597.70px;top:1016.00px;width:67.30px;height:32.00px"><span>21<i>:</i>19</span></div>
<div class="c t" style="left:665.10px;top:1016.00px;width:66.50px;height:32.00px"><span>21<i>:</i>00</span></div>
<div class="c t" style="left:731.60px;top:1016.00px;width:67.20px;height:32.00px"><span>21<i>:</i>02</span></div>
<div class="c t" style="left:799.00px;top:1016.00px;width:66.00px;height:32.00px"><span>20<i>:</i>47</span></div>
<div class="c t" style="left:864.90px;top:1016.00px;width:68.80px;height:32.00px"><span>20<i>:</i>49</span></div>
<div class="c t" style="left:934.50px;top:1016.00px;width:71.20px;height:32.00px"><span>20<i>:</i>35</span></div>
<div class="c t" style="left:1004.90px;top:1016.00px;width:61.20px;height:32.00px"><span>20<i>:</i>37</span></div>
<div class="c n" style="left:14.50px;top:1048.00px;width:40.00px;height:32.00px"><span>32</span></div>
<div class="c n" style="left:54.00px;top:1048.00px;width:66.00px;height:32.00px"><span>G6152</span></div>
<div class="c z" style="left:120.15px;top:1048.00px;width:174.00px;height:32.00px"><span>广州南<i><b>-</b></i>张家界西</span></div>
<div class="c t" style="left:294.50px;top:1048.00px;width:57.55px;height:32.00px"><span>22<i>:</i>18</span></div>
<div class="c d" style="left:352.05px;top:1048.00px;width:64.15px;height:32.00px"><span>——</span></div>
<div class="c t" style="left:665.10px;top:1048.00px;width:66.50px;height:32.00px"><span>21<i>:</i>37</span></div>
<div class="c t" style="left:731.60px;top:1048.00px;width:67.20px;height:32.00px"><span>21<i>:</i>40</span></div>
<div class="c t" style="left:799.00px;top:1048.00px;width:66.00px;height:32.00px"><span>21<i>:</i>24</span></div>
<div class="c t" style="left:864.90px;top:1048.00px;width:68.80px;height:32.00px"><span>21<i>:</i>26</span></div>
<svg width="1080" height="1089" viewBox="0 0 1080 1089">
<g opacity="0.3" fill="#58b9e1" stroke="#58b9e1">
<rect x="323.7" y="431.6" width="433.7" height="124.8" rx="25" ry="25" fill="none" stroke-width="9.2"/>
<text y="532" font-family="'Liberation Sans','Noto Sans CJK SC',sans-serif" font-weight="900" font-size="98" stroke-width="1.2" stroke-linejoin="miter"><tspan x="345" textLength="71" lengthAdjust="spacingAndGlyphs">人</tspan><tspan x="433" textLength="97" lengthAdjust="spacingAndGlyphs">铁</tspan><tspan x="539" textLength="94" lengthAdjust="spacingAndGlyphs">风</tspan><tspan x="636" textLength="92" lengthAdjust="spacingAndGlyphs">强</tspan></text>
<path d="M574 532 L592 591 L620 549 L664 543" fill="none" stroke-width="8.5" stroke-linejoin="round"/>
</g>
</svg>

</body></html>
